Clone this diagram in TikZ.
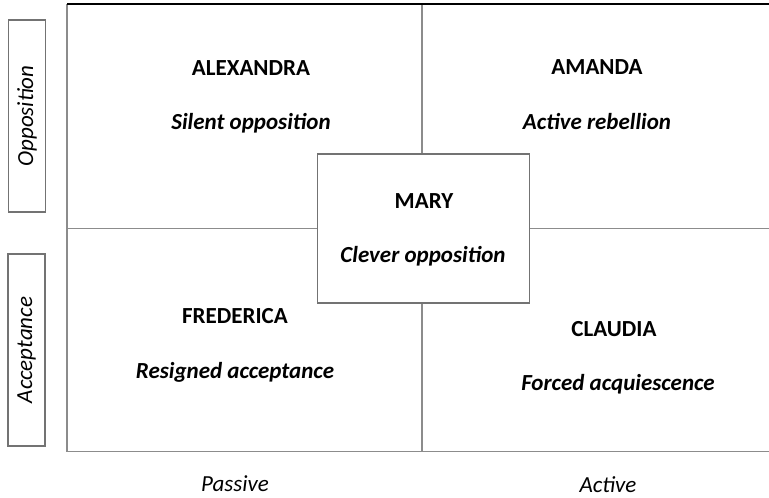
\documentclass[tikz,border=0pt]{standalone}
\usepackage{fontspec}
\setmainfont{Carlito}
\begin{document}
\begin{tikzpicture}[x=1pt,y=-1pt,
  frame/.style={draw=black!45, line width=1.4pt},
  sidebox/.style={draw=black!55, line width=1.2pt, minimum width=192pt, minimum height=37pt, rotate=90, inner sep=0pt},
  pname/.style={font=\fontsize{23}{26}\selectfont\bfseries},
  prole/.style={font=\fontsize{23}{26}\selectfont\bfseries\itshape},
  paxis/.style={font=\fontsize{23}{26}\selectfont\itshape}]
\useasboundingbox (0,0) rectangle (769,498);
% outer frame and quadrant dividers
\coordinate (tl) at (67,4);
\coordinate (tr) at (769,4);
\coordinate (bl) at (67,451.5);
\coordinate (br) at (769,451.5);
\coordinate (ml) at (67,228.5);
\coordinate (mr) at (769,228.5);
\coordinate (mt) at (421.8,4);
\coordinate (mb) at (421.8,451.5);
\draw[frame] (tl) -- (bl) -- (br);
\draw[frame] (ml) -- (mr);
\draw[frame] (mt) -- (mb);
\draw[black, line width=1.6pt] (tl) -- (tr);
% central box
\node[draw=black!55, line width=1.2pt, fill=white, minimum width=212pt, minimum height=149pt] (mary) at (423.5,228.5) {};
% side labels
\node[sidebox, paxis] (opp) at (27,116) {Opposition};
\node[sidebox, paxis] (acc) at (26.5,350) {Acceptance};
% quadrant texts
\node[pname] (alex) at (251,68) {ALEXANDRA};
\node[prole] (alexr) at (251,123) {Silent opposition};
\node[pname] (amanda) at (597,67) {AMANDA};
\node[prole] (amandar) at (597,122) {Active rebellion};
\node[pname] (maryn) at (424,201) {MARY};
\node[prole] (maryr) at (423,256) {Clever opposition};
\node[pname] (fred) at (235,316) {FREDERICA};
\node[prole] (fredr) at (235,372) {Resigned acceptance};
\node[pname] (claud) at (614,329) {CLAUDIA};
\node[prole] (claudr) at (618,384) {Forced acquiescence};
% axis labels
\node[paxis] (passive) at (235,484) {Passive};
\node[paxis] (active) at (608,485) {Active};
\end{tikzpicture}
\end{document}
